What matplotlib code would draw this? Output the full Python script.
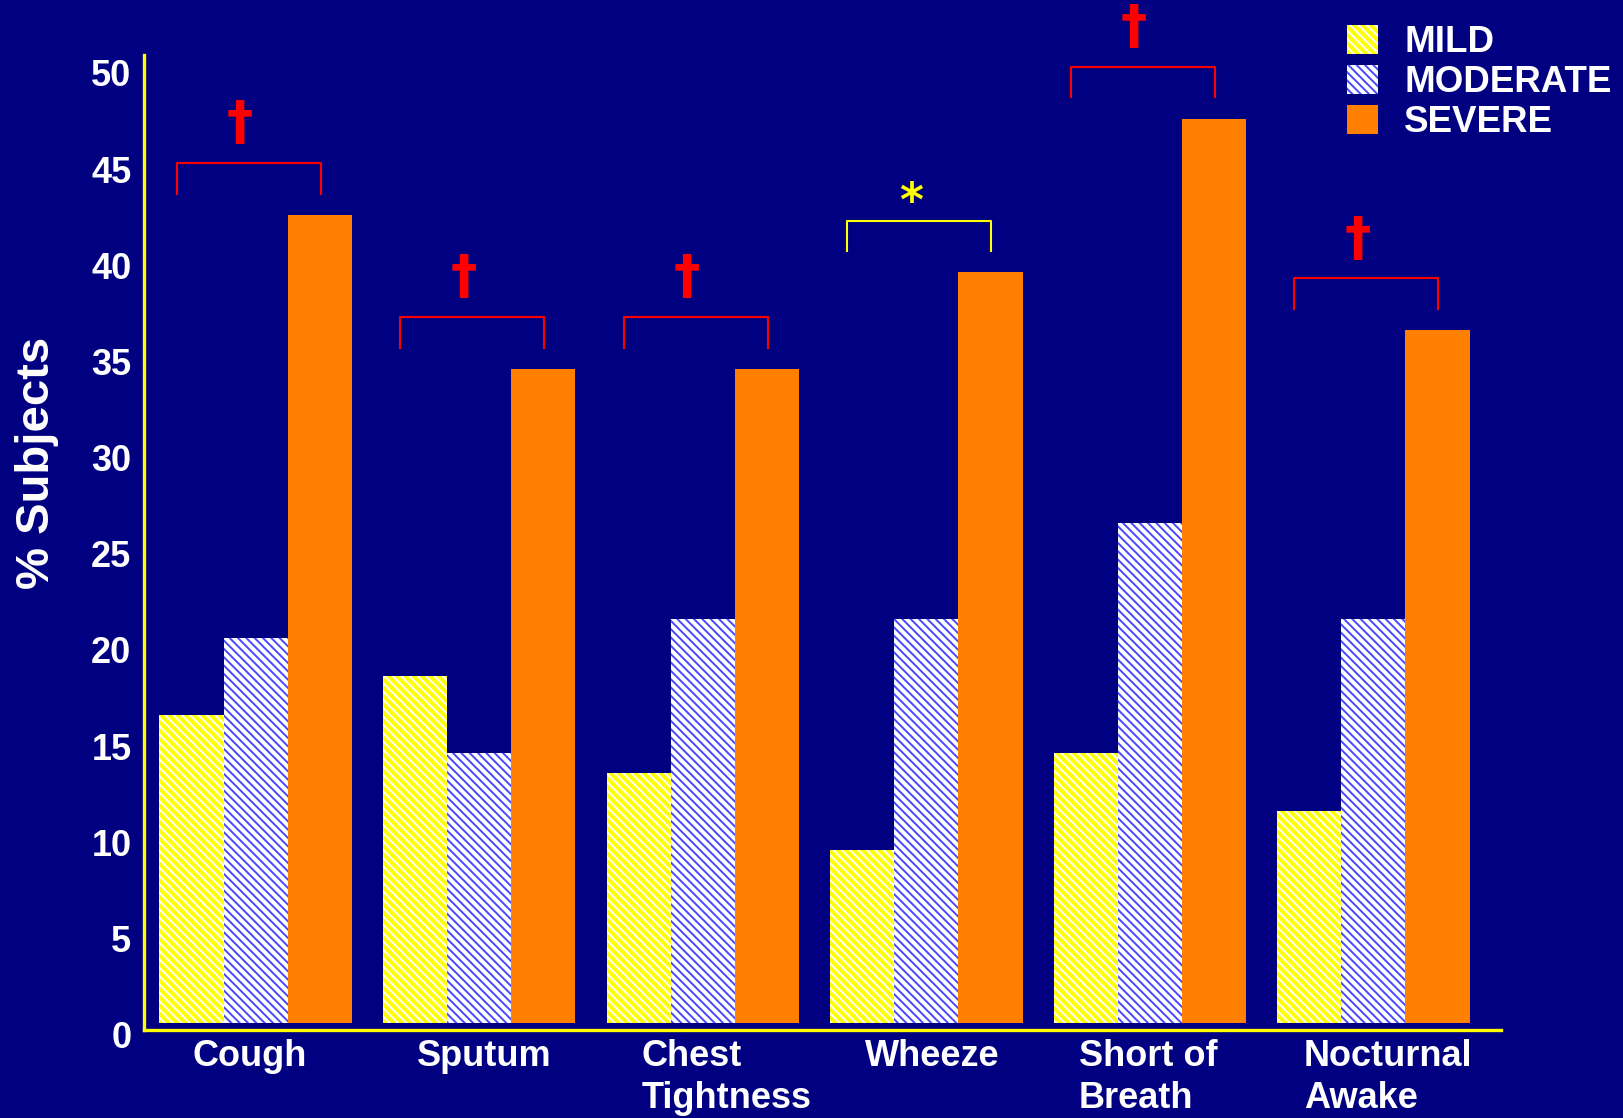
import matplotlib.pyplot as plt
import matplotlib.transforms as mtransforms
import numpy as np

plt.rcParams['font.family'] = ['Liberation Sans', 'DejaVu Sans']
plt.rcParams['font.weight'] = 'bold'
plt.rcParams['hatch.linewidth'] = 1.4

categories = ['Cough', 'Sputum', 'Chest\nTightness', 'Wheeze', 'Short of\nBreath', 'Nocturnal\nAwake']
mild = [16, 18, 13, 9, 14, 11]
moderate = [20, 14, 21, 21, 26, 21]
severe = [42, 34, 34, 39, 47, 36]
marks = ['†', '†', '†', '*', '†', '†']
yticks = list(range(0, 51, 5))

navy = '#000080'
fig = plt.figure(figsize=(16.23, 11.18), dpi=100, facecolor=navy)
ax = fig.add_axes([0.0887, 0.0787, 0.836, 0.872])
ax.set_facecolor(navy)

x = np.arange(len(categories))
w = 0.287
b1 = ax.bar(x - w, mild, w, facecolor='#ffff00', edgecolor='white', hatch='\\\\\\\\', linewidth=0, label='MILD')
b2 = ax.bar(x, moderate, w, facecolor='white', edgecolor='#4848ff', hatch='\\\\\\\\', linewidth=0, label='MODERATE')
b3 = ax.bar(x + w, severe, w, facecolor='#ff8000', linewidth=0, label='SEVERE')

ax.set_xlim(-0.50, 5.57)
ax.set_ylim(-0.38, 50.3)

# axis lines
for side in ['top', 'right']:
    ax.spines[side].set_visible(False)
for side in ['left', 'bottom']:
    ax.spines[side].set_color('#ffff00')
    ax.spines[side].set_linewidth(2.4)

ax.set_xticks([])
ax.set_yticks(yticks)
ax.set_yticklabels([str(t) for t in yticks], color='white', fontsize=26, fontweight='bold')
ax.tick_params(axis='y', length=0, pad=9)
shift = mtransforms.ScaledTranslation(0, -0.12, fig.dpi_scale_trans)
for lab in ax.get_yticklabels():
    lab.set_transform(lab.get_transform() + shift)

# category names under the groups, left aligned
offs = [-0.285, -0.28, -0.275, -0.276, -0.317, -0.31]
trans = mtransforms.blended_transform_factory(ax.transData, ax.transAxes) + \
    mtransforms.ScaledTranslation(0, -0.09, fig.dpi_scale_trans)
for i, name in enumerate(categories):
    ax.text(x[i] + offs[i], 0, name, transform=trans, ha='left', va='top',
            color='white', fontsize=26, fontweight='bold', linespacing=1.27)

# significance brackets over mild vs severe
for i, s in enumerate(severe):
    col = '#ffff00' if marks[i] == '*' else '#ff0000'
    top = s + 2.7
    ax.plot([x[i] - 0.353, x[i] - 0.353, x[i] + 0.29, x[i] + 0.29],
            [top - 1.6, top, top, top - 1.6], color=col, lw=1.5, clip_on=False)
    if marks[i] == '*':
        ax.text(x[i] - 0.07, s + 3.6, '*', color=col, fontsize=33, fontweight='bold',
                family='DejaVu Sans', ha='center', va='center', clip_on=False)
    else:
        ax.text(x[i] - 0.07, s + 4.7, '†', color=col, fontsize=38, fontweight='bold',
                family='DejaVu Sans', ha='center', va='center', clip_on=False)

fig.text(37 / 1623, 1 - 463 / 1118, '% Subjects', rotation=90, color='white',
         fontsize=34, fontweight='bold', ha='center', va='center')

leg = fig.legend(handles=[b1, b2, b3], loc='upper left', bbox_to_anchor=(0.8185, 0.994),
                 frameon=False, fontsize=26.5, borderpad=0, handlelength=0.84,
                 handleheight=0.84, handletextpad=0.72, labelspacing=0.12)
for t in leg.get_texts():
    t.set_color('white')
    t.set_fontweight('bold')

fig.savefig('out.png', dpi=100, facecolor=navy)
